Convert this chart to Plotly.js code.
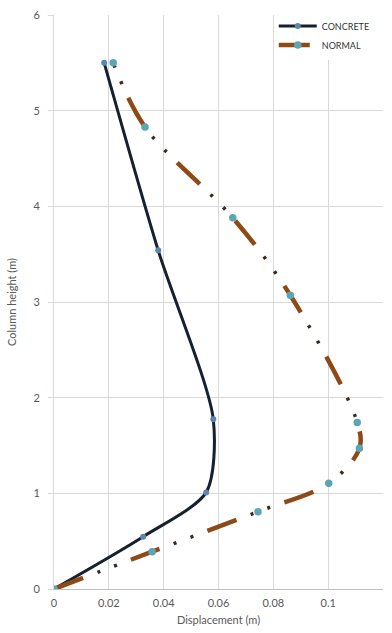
<!DOCTYPE html>
<html>
<head>
<meta charset="utf-8">
<script src="https://cdn.plot.ly/plotly-3.0.1.min.js"></script>
<style>html,body{margin:0;padding:0;background:#fff;}#chart{width:392px;height:633px;}</style>
</head>
<body>
<div id="chart"></div>
<script>
// Data (displacement in m, column height in m)
const concreteX = [0, 0.0325, 0.0555, 0.0581, 0.0380, 0.0183];
const concreteY = [0, 0.547, 1.01, 1.774, 3.54, 5.5];
const normalX = [0, 0.0358, 0.0744, 0.1002, 0.1114, 0.1106, 0.0862, 0.0652, 0.0332, 0.0216];
const normalY = [0, 0.39, 0.808, 1.105, 1.47, 1.74, 3.07, 3.88, 4.83, 5.5];
const xTicks = [0, 0.02, 0.04, 0.06, 0.08, 0.1, 0.12];
const yTicks = [0, 1, 2, 3, 4, 5, 6];
const seriesNames = ['CONCRETE', 'NORMAL'];

const FONT = 'Lato, "Open Sans", sans-serif';
const traces = [
  {
    x: concreteX, y: concreteY, name: seriesNames[0], type: 'scatter', mode: 'lines+markers',
    line: {color: '#17202e', width: 3, shape: 'spline', smoothing: 0.75},
    marker: {color: '#5a87b0', size: 6}
  },
  {
    x: normalX, y: normalY, name: seriesNames[1] + ' dots', type: 'scatter', mode: 'lines',
    showlegend: false, hoverinfo: 'skip',
    line: {color: '#3a2a1e', width: 3.5, shape: 'spline', smoothing: 1, dash: '0px,46px,3px,15px,3px,15px'}
  },
  {
    x: normalX, y: normalY, name: seriesNames[1], type: 'scatter', mode: 'lines+markers',
    line: {color: '#8e4a16', width: 4.5, shape: 'spline', smoothing: 1, dash: '31px,51px'},
    marker: {color: '#5ba6b5', size: 7.5}
  }
];

const layout = {
  width: 392, height: 633,
  margin: {l: 54, r: 9, t: 15, b: 44, autoexpand: false},
  paper_bgcolor: '#ffffff', plot_bgcolor: '#ffffff',
  font: {family: FONT, color: '#595959', size: 11},
  showlegend: true,
  legend: {
    x: 0.668, xanchor: 'left', y: 1.006, yanchor: 'top',
    bgcolor: '#ffffff', borderwidth: 0,
    font: {family: FONT, size: 9, color: '#333333'},
    itemwidth: 38, tracegroupgap: 0
  },
  xaxis: {
    range: [0, 0.12], tickvals: xTicks, ticktext: xTicks.map(String),
    showgrid: true, gridcolor: '#d9d9d9', gridwidth: 1,
    zeroline: false, showline: true, linecolor: '#bfbfbf', linewidth: 1,
    ticks: '', ticklabelstandoff: 4,
    tickfont: {family: FONT, size: 11, color: '#595959'},
    title: {text: 'Displacement (m)', font: {family: FONT, size: 11, color: '#595959'}, standoff: 8},
    fixedrange: true
  },
  yaxis: {
    range: [0, 6], tickvals: yTicks, ticktext: yTicks.map(String),
    showgrid: true, gridcolor: '#d9d9d9', gridwidth: 1,
    zeroline: false, showline: true, linecolor: '#d9d9d9', linewidth: 1,
    ticks: 'outside', ticklen: 5, tickcolor: '#d9d9d9', ticklabelstandoff: 6,
    tickfont: {family: FONT, size: 11, color: '#595959'},
    title: {text: 'Column height (m)', font: {family: FONT, size: 11, color: '#595959'}, standoff: 14},
    fixedrange: true
  }
};

Plotly.newPlot('chart', traces, layout, {displayModeBar: false, staticPlot: true});
</script>
</body>
</html>
